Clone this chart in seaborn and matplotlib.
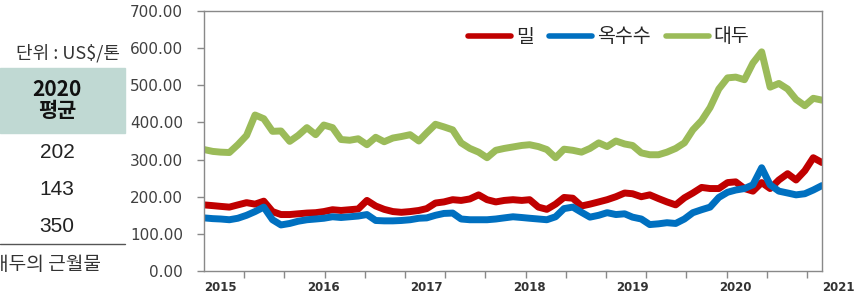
import numpy as np
import pandas as pd
import matplotlib.pyplot as plt
import matplotlib.dates as mdates
import matplotlib.ticker as ticker
from matplotlib.lines import Line2D
from matplotlib.patches import Rectangle
import seaborn as sns

# monthly prices, US$/ton, Jan 2015 .. Jan 2021
months = pd.date_range("2015-01-01", "2021-01-01", freq="MS")

wheat = [178, 176, 174, 172, 178, 184, 180, 188, 160, 152, 152, 154,
         156, 157, 160, 165, 163, 165, 167, 190, 175, 166, 160, 158,
         160, 163, 168, 183, 186, 192, 190, 194, 205, 192, 186, 190,
         192, 190, 192, 172, 166, 180, 198, 196, 175, 180, 186, 192,
         200, 210, 208, 200, 205, 195, 186, 178, 197, 210, 225, 222,
         222, 238, 240, 222, 215, 238, 222, 245, 262, 245, 270, 305,
         292]
corn = [143, 141, 140, 138, 142, 150, 160, 172, 138, 124, 128, 134,
        138, 140, 142, 146, 144, 146, 148, 152, 136, 135, 135, 136,
        138, 142, 143, 150, 155, 156, 140, 138, 138, 138, 140, 143,
        146, 144, 142, 140, 138, 146, 168, 172, 158, 145, 150, 157,
        152, 154, 145, 140, 125, 127, 130, 128, 140, 157, 165, 172,
        198, 212, 218, 222, 232, 278, 232, 215, 210, 205, 208, 218,
        230]
soy = [327, 322, 320, 319, 340, 365, 420, 410, 376, 377, 349, 365,
       386, 367, 393, 386, 354, 352, 356, 340, 360, 348, 358, 362,
       367, 350, 372, 395, 388, 380, 345, 330, 320, 305, 325, 330,
       334, 338, 340, 335, 327, 305, 328, 325, 320, 330, 345, 335,
       350, 342, 338, 318, 313, 313, 320, 330, 345, 380, 405, 440,
       490, 520, 522, 515, 560, 590, 495, 505, 490, 462, 445, 465,
       460]

crops = ["밀", "옥수수", "대두"]
colors = ["#c00000", "#0070c0", "#9bbb59"]

year_labels = ["2015", "2016", "2017", "2018", "2019", "2020", "2021"]
avg_labels = ["202", "143", "350"]

df = pd.DataFrame({
    "date": np.tile(months, 3),
    "price": wheat + corn + soy,
    "crop": np.repeat(crops, len(months)),
})

sns.set_style("white")
plt.rcParams["font.family"] = ["DejaVu Sans"]
kr = ["Noto Sans CJK KR", "DejaVu Sans"]

fig = plt.figure(figsize=(8.6, 2.99), dpi=100)
ax = fig.add_axes([204 / 860, 1 - 271 / 299, 618 / 860, 260 / 299])

sns.lineplot(data=df, x="date", y="price", hue="crop", hue_order=crops,
             palette=colors, linewidth=5, legend=False, ax=ax)

ax.set_xlim(months[0], months[-1])
ax.set_ylim(0, 700)
ax.set_xlabel("")
ax.set_ylabel("")

ax.yaxis.set_major_locator(ticker.MultipleLocator(100))
ax.yaxis.set_major_formatter(ticker.FormatStrFormatter("%.2f"))
ax.tick_params(axis="y", left=True, length=5, width=1, color="#898989",
               labelsize=11, labelcolor="#404040", pad=10)

# years as labels only, small tick marks spread along the axis
x0 = mdates.date2num(months[0])
x1 = mdates.date2num(months[-1])
ax.set_xticks([mdates.date2num(pd.Timestamp(y + "-01-01")) for y in year_labels])
ax.set_xticklabels(year_labels, ha="left", fontsize=8.5, fontweight="bold",
                   color="#333333")
ax.xaxis.set_minor_locator(ticker.FixedLocator(x0 + np.arange(16) * (x1 - x0) * 40.2 / 618))
ax.tick_params(axis="x", which="major", length=0, pad=7)
ax.tick_params(axis="x", which="minor", bottom=True, length=5, width=1, color="#898989")

for s in ax.spines.values():
    s.set_color("#898989")
    s.set_linewidth(1)

handles = [Line2D([], [], color=c, lw=4, solid_capstyle="round") for c in colors]
ax.legend(handles, crops, loc="center", bbox_to_anchor=(0.655, 0.9), ncol=3,
          frameon=False, prop={"family": kr, "size": 14}, handlelength=2.2,
          handletextpad=0.25, columnspacing=0.8)

# part of the side table
fig.text(120 / 860, 1 - 53 / 299, "단위 : US$/톤", ha="right", va="center",
         fontsize=13, family=kr, color="#333333")
fig.patches.append(Rectangle((0, 1 - 133 / 299), 125 / 860, 65 / 299,
                             transform=fig.transFigure, color="#c0d9d3", zorder=0))
fig.text(57 / 860, 1 - 100 / 299, "2020\n평균", ha="center", va="center",
         fontsize=15, fontweight="bold", family=["Noto Sans CJK KR"],
         linespacing=1.0, color="#111111")
for i, lab in enumerate(avg_labels):
    fig.text(57 / 860, 1 - (153 + 36.5 * i) / 299, lab, ha="center", va="center",
             fontsize=15, family=["Liberation Sans"], color="#222222")
fig.add_artist(Line2D([0, 125 / 860], [1 - 244 / 299] * 2, color="#555555", lw=1))
fig.text(101 / 860, 1 - 265 / 299, "대두의 근월물", ha="right", va="center",
         fontsize=13.8, family=kr, color="#333333")

fig.savefig("out.png", dpi=100)
